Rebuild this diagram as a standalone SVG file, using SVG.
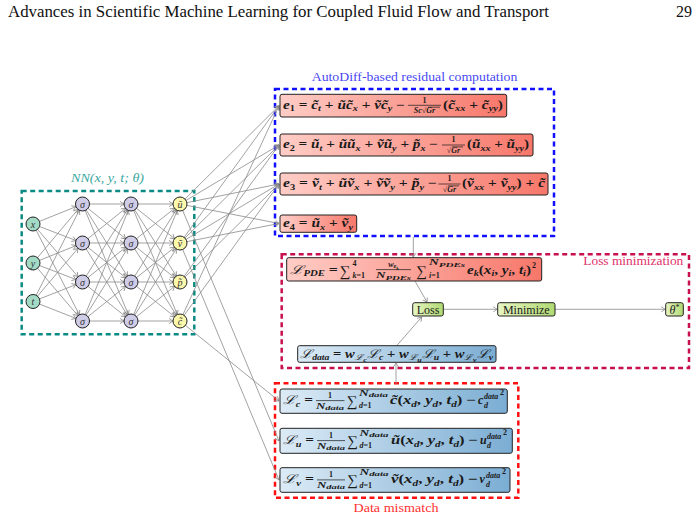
<svg xmlns="http://www.w3.org/2000/svg" width="700" height="519" viewBox="0 0 700 519">
<defs>
<style>
.edge{stroke:#8a8a8a;stroke-width:0.8;fill:none}
.nn{marker-end:url(#an)}
.cx{marker-end:url(#ab)}
.node{stroke:#222;stroke-width:1}
.in{fill:#a3dac6}.hid{fill:#cfcce8}.out{fill:#fbf8ac}
.serif{font-family:"Liberation Serif","Times New Roman",Times,"DejaVu Serif",serif}
.nl{font-family:"Liberation Serif","Times New Roman",Times,"DejaVu Serif",serif;font-style:italic;font-size:10px;text-anchor:middle;fill:#333}
.box{stroke:#222;stroke-width:1}
.m{font-family:"Liberation Serif","Times New Roman",Times,"DejaVu Serif",serif;font-size:12px;font-weight:bold;fill:#1a1a1a}
.i{font-style:italic}
.L{font-weight:normal}
.s{font-size:8px}
.t{font-size:6.5px}
.sig{font-size:15px;font-weight:normal}
.c{text-anchor:middle}
.bar{stroke:#1a1a1a;stroke-width:0.7}
.lbl{font-family:"Liberation Serif","Times New Roman",Times,"DejaVu Serif",serif;font-size:13px}
.plain{font-family:"Liberation Serif","Times New Roman",Times,"DejaVu Serif",serif;font-size:12px;fill:#1a1a1a;text-anchor:middle}
.dash{fill:none;stroke-width:2.5;stroke-dasharray:5 3.5}
</style>
<marker id="an" markerUnits="userSpaceOnUse" markerWidth="20" markerHeight="10" viewBox="-12 -5 20 10" refX="7" refY="0" orient="auto">
<path d="M-4,-2.6 L0,0 L-4,2.6" fill="none" stroke="#8a8a8a" stroke-width="0.8"/>
</marker>
<marker id="ab" markerUnits="userSpaceOnUse" markerWidth="10" markerHeight="10" viewBox="-6 -5 10 10" refX="0" refY="0" orient="auto">
<path d="M-4,-2.6 L0,0 L-4,2.6" fill="none" stroke="#8a8a8a" stroke-width="0.8"/>
</marker>
<linearGradient id="gr" x1="0" x2="1" y1="0" y2="0"><stop offset="0" stop-color="#ffcdc6"/><stop offset="1" stop-color="#f7776a"/></linearGradient>
<linearGradient id="gb" x1="0" x2="1" y1="0" y2="0"><stop offset="0" stop-color="#dcebf6"/><stop offset="1" stop-color="#7badd3"/></linearGradient>
<linearGradient id="gg" x1="0" x2="1" y1="0" y2="0"><stop offset="0" stop-color="#e8f5c4"/><stop offset="1" stop-color="#b0da72"/></linearGradient>
</defs>
<rect width="700" height="519" fill="#fff"/>

<text class="serif" x="8" y="17" font-size="16" textLength="541" lengthAdjust="spacingAndGlyphs" fill="#111">Advances in Scientific Machine Learning for Coupled Fluid Flow and Transport</text>
<text class="serif" x="692" y="17" font-size="16" text-anchor="end" fill="#111">29</text>

<g id="nn-frame">
<rect class="dash" x="21.7" y="191" width="172.6" height="143.3" stroke="#0a8a84"/>
<text class="serif" x="107.5" y="182.3" font-style="italic" font-size="12" fill="#3aa8a0" text-anchor="middle" textLength="73" lengthAdjust="spacingAndGlyphs">NN(x, y, t; θ)</text>
</g>
<g id="residual-frame">
<rect class="dash" x="275" y="89" width="279" height="147" stroke="#1010ff"/>
<text class="lbl" x="311.7" y="81" textLength="205.6" lengthAdjust="spacingAndGlyphs" fill="#4848f2">AutoDiff-based residual computation</text>
</g>
<g id="loss-frame">
<rect class="dash" x="281.7" y="254.3" width="407.3" height="113.7" stroke="#c8104c"/>
<text class="lbl" x="583.3" y="265" textLength="100" lengthAdjust="spacingAndGlyphs" fill="#e0306a">Loss minimization</text>
</g>
<g id="data-frame">
<rect class="dash" x="275" y="383.3" width="243.3" height="114.4" stroke="#ff1010"/>
<text class="lbl" x="396" y="511.5" textLength="85" lengthAdjust="spacingAndGlyphs" text-anchor="middle" fill="#ff3030">Data mismatch</text>
</g>

<g id="connectors">
<line class="edge nn" x1="33" y1="224" x2="82.5" y2="204"/>
<line class="edge nn" x1="33" y1="224" x2="82.5" y2="243"/>
<line class="edge nn" x1="33" y1="224" x2="82.5" y2="282"/>
<line class="edge nn" x1="33" y1="224" x2="82.5" y2="321"/>
<line class="edge nn" x1="33" y1="263" x2="82.5" y2="204"/>
<line class="edge nn" x1="33" y1="263" x2="82.5" y2="243"/>
<line class="edge nn" x1="33" y1="263" x2="82.5" y2="282"/>
<line class="edge nn" x1="33" y1="263" x2="82.5" y2="321"/>
<line class="edge nn" x1="33" y1="301.5" x2="82.5" y2="204"/>
<line class="edge nn" x1="33" y1="301.5" x2="82.5" y2="243"/>
<line class="edge nn" x1="33" y1="301.5" x2="82.5" y2="282"/>
<line class="edge nn" x1="33" y1="301.5" x2="82.5" y2="321"/>
<line class="edge nn" x1="82.5" y1="204" x2="131" y2="204"/>
<line class="edge nn" x1="82.5" y1="204" x2="131" y2="243"/>
<line class="edge nn" x1="82.5" y1="204" x2="131" y2="282"/>
<line class="edge nn" x1="82.5" y1="204" x2="131" y2="321"/>
<line class="edge nn" x1="82.5" y1="243" x2="131" y2="204"/>
<line class="edge nn" x1="82.5" y1="243" x2="131" y2="243"/>
<line class="edge nn" x1="82.5" y1="243" x2="131" y2="282"/>
<line class="edge nn" x1="82.5" y1="243" x2="131" y2="321"/>
<line class="edge nn" x1="82.5" y1="282" x2="131" y2="204"/>
<line class="edge nn" x1="82.5" y1="282" x2="131" y2="243"/>
<line class="edge nn" x1="82.5" y1="282" x2="131" y2="282"/>
<line class="edge nn" x1="82.5" y1="282" x2="131" y2="321"/>
<line class="edge nn" x1="82.5" y1="321" x2="131" y2="204"/>
<line class="edge nn" x1="82.5" y1="321" x2="131" y2="243"/>
<line class="edge nn" x1="82.5" y1="321" x2="131" y2="282"/>
<line class="edge nn" x1="82.5" y1="321" x2="131" y2="321"/>
<line class="edge nn" x1="131" y1="204" x2="180" y2="204"/>
<line class="edge nn" x1="131" y1="204" x2="180" y2="243"/>
<line class="edge nn" x1="131" y1="204" x2="180" y2="282"/>
<line class="edge nn" x1="131" y1="204" x2="180" y2="321"/>
<line class="edge nn" x1="131" y1="243" x2="180" y2="204"/>
<line class="edge nn" x1="131" y1="243" x2="180" y2="243"/>
<line class="edge nn" x1="131" y1="243" x2="180" y2="282"/>
<line class="edge nn" x1="131" y1="243" x2="180" y2="321"/>
<line class="edge nn" x1="131" y1="282" x2="180" y2="204"/>
<line class="edge nn" x1="131" y1="282" x2="180" y2="243"/>
<line class="edge nn" x1="131" y1="282" x2="180" y2="282"/>
<line class="edge nn" x1="131" y1="282" x2="180" y2="321"/>
<line class="edge nn" x1="131" y1="321" x2="180" y2="204"/>
<line class="edge nn" x1="131" y1="321" x2="180" y2="243"/>
<line class="edge nn" x1="131" y1="321" x2="180" y2="282"/>
<line class="edge nn" x1="131" y1="321" x2="180" y2="321"/>
<line class="edge cx" x1="180" y1="204" x2="279" y2="105.7"/>
<line class="edge cx" x1="180" y1="243" x2="279" y2="105.7"/>
<line class="edge cx" x1="180" y1="321" x2="279" y2="105.7"/>
<line class="edge cx" x1="180" y1="204" x2="279" y2="145"/>
<line class="edge cx" x1="180" y1="243" x2="279" y2="145"/>
<line class="edge cx" x1="180" y1="282" x2="279" y2="145"/>
<line class="edge cx" x1="180" y1="204" x2="279" y2="184"/>
<line class="edge cx" x1="180" y1="243" x2="279" y2="184"/>
<line class="edge cx" x1="180" y1="282" x2="279" y2="184"/>
<line class="edge cx" x1="180" y1="321" x2="279" y2="184"/>
<line class="edge cx" x1="180" y1="204" x2="279" y2="223.5"/>
<line class="edge cx" x1="180" y1="243" x2="279" y2="223.5"/>
<line class="edge cx" x1="180" y1="321" x2="279" y2="401"/>
<line class="edge cx" x1="180" y1="204" x2="279" y2="441"/>
<line class="edge cx" x1="180" y1="243" x2="279" y2="480"/>
<line class="edge cx" x1="413.3" y1="237" x2="413.3" y2="257.2"/>
<line class="edge cx" x1="396" y1="384" x2="396" y2="363"/>
<line class="edge cx" x1="415" y1="281" x2="427" y2="302.2"/>
<line class="edge cx" x1="396.7" y1="345.7" x2="421.7" y2="317"/>
<line class="edge cx" x1="443.3" y1="309.3" x2="497.2" y2="309.3"/>
<line class="edge cx" x1="555" y1="309.3" x2="665.2" y2="309.3"/>
</g>

<g id="in-x"><circle class="node in" cx="33" cy="224" r="7"/><text class="nl" x="33" y="227.5">x</text></g>
<g id="in-y"><circle class="node in" cx="33" cy="263" r="7"/><text class="nl" x="33" y="266.5">y</text></g>
<g id="in-t"><circle class="node in" cx="33" cy="301.5" r="7"/><text class="nl" x="33" y="305">t</text></g>
<g id="h1-1"><circle class="node hid" cx="82.5" cy="204" r="7"/><text class="nl" x="82.5" y="207.5">σ</text></g>
<g id="h1-2"><circle class="node hid" cx="82.5" cy="243" r="7"/><text class="nl" x="82.5" y="246.5">σ</text></g>
<g id="h1-3"><circle class="node hid" cx="82.5" cy="282" r="7"/><text class="nl" x="82.5" y="285.5">σ</text></g>
<g id="h1-4"><circle class="node hid" cx="82.5" cy="321" r="7"/><text class="nl" x="82.5" y="324.5">σ</text></g>
<g id="h2-1"><circle class="node hid" cx="131" cy="204" r="7"/><text class="nl" x="131" y="207.5">σ</text></g>
<g id="h2-2"><circle class="node hid" cx="131" cy="243" r="7"/><text class="nl" x="131" y="246.5">σ</text></g>
<g id="h2-3"><circle class="node hid" cx="131" cy="282" r="7"/><text class="nl" x="131" y="285.5">σ</text></g>
<g id="h2-4"><circle class="node hid" cx="131" cy="321" r="7"/><text class="nl" x="131" y="324.5">σ</text></g>
<g id="out-u"><circle class="node out" cx="180" cy="204" r="7"/><text class="nl" x="180" y="207.5">u&#x303;</text></g>
<g id="out-v"><circle class="node out" cx="180" cy="243" r="7"/><text class="nl" x="180" y="246.5">v&#x303;</text></g>
<g id="out-p"><circle class="node out" cx="180" cy="282" r="7"/><text class="nl" x="180" y="285.5">p&#x303;</text></g>
<g id="out-c"><circle class="node out" cx="180" cy="321" r="7"/><text class="nl" x="180" y="324.5">c&#x303;</text></g>

<g id="e1">
<rect class="box" x="280" y="94.3" width="226.7" height="22.7" rx="2" fill="url(#gr)"/>
<text class="m" x="283" y="108.5" textLength="122" lengthAdjust="spacingAndGlyphs"><tspan class="i">e</tspan><tspan class="s" dy="2.5">1</tspan><tspan dy="-2.5"> = </tspan><tspan class="i">c&#x303;</tspan><tspan class="s i" dy="2.5">t</tspan><tspan dy="-2.5"> + </tspan><tspan class="i">u&#x303;c&#x303;</tspan><tspan class="s i" dy="2.5">x</tspan><tspan dy="-2.5"> + </tspan><tspan class="i">v&#x303;c&#x303;</tspan><tspan class="s i" dy="2.5">y</tspan><tspan dy="-2.5"> −</tspan></text>
<text class="m s c" x="424.5" y="102.5">1</text>
<line class="bar" x1="408" y1="105.3" x2="441" y2="105.3"/>
<text class="m s c" x="424.5" y="113"><tspan class="i">Sc</tspan>√<tspan class="i">Gr</tspan></text>
<line class="bar" x1="428" y1="107.2" x2="440" y2="107.2"/>
<text class="m" x="443" y="108.5" textLength="60" lengthAdjust="spacingAndGlyphs">(<tspan class="i">c&#x303;</tspan><tspan class="s i" dy="2.5">xx</tspan><tspan dy="-2.5"> + </tspan><tspan class="i">c&#x303;</tspan><tspan class="s i" dy="2.5">yy</tspan><tspan dy="-2.5">)</tspan></text>
</g>
<g id="e2">
<rect class="box" x="280" y="134" width="253" height="22" rx="2" fill="url(#gr)"/>
<text class="m" x="283" y="148.3" textLength="155" lengthAdjust="spacingAndGlyphs"><tspan class="i">e</tspan><tspan class="s" dy="2.5">2</tspan><tspan dy="-2.5"> = </tspan><tspan class="i">u&#x303;</tspan><tspan class="s i" dy="2.5">t</tspan><tspan dy="-2.5"> + </tspan><tspan class="i">u&#x303;u&#x303;</tspan><tspan class="s i" dy="2.5">x</tspan><tspan dy="-2.5"> + </tspan><tspan class="i">v&#x303;u&#x303;</tspan><tspan class="s i" dy="2.5">y</tspan><tspan dy="-2.5"> + </tspan><tspan class="i">p&#x303;</tspan><tspan class="s i" dy="2.5">x</tspan><tspan dy="-2.5"> −</tspan></text>
<text class="m s c" x="453.5" y="142.2">1</text>
<line class="bar" x1="442" y1="145" x2="465" y2="145"/>
<text class="m s c" x="453.5" y="152.7">√<tspan class="i">Gr</tspan></text>
<line class="bar" x1="452" y1="146.9" x2="463" y2="146.9"/>
<text class="m" x="467" y="148.3" textLength="62" lengthAdjust="spacingAndGlyphs">(<tspan class="i">u&#x303;</tspan><tspan class="s i" dy="2.5">xx</tspan><tspan dy="-2.5"> + </tspan><tspan class="i">u&#x303;</tspan><tspan class="s i" dy="2.5">yy</tspan><tspan dy="-2.5">)</tspan></text>
</g>
<g id="e3">
<rect class="box" x="280" y="173" width="268" height="22" rx="2" fill="url(#gr)"/>
<text class="m" x="283" y="187.3" textLength="154" lengthAdjust="spacingAndGlyphs"><tspan class="i">e</tspan><tspan class="s" dy="2.5">3</tspan><tspan dy="-2.5"> = </tspan><tspan class="i">v&#x303;</tspan><tspan class="s i" dy="2.5">t</tspan><tspan dy="-2.5"> + </tspan><tspan class="i">u&#x303;v&#x303;</tspan><tspan class="s i" dy="2.5">x</tspan><tspan dy="-2.5"> + </tspan><tspan class="i">v&#x303;v&#x303;</tspan><tspan class="s i" dy="2.5">y</tspan><tspan dy="-2.5"> + </tspan><tspan class="i">p&#x303;</tspan><tspan class="s i" dy="2.5">y</tspan><tspan dy="-2.5"> −</tspan></text>
<text class="m s c" x="449.5" y="181.2">1</text>
<line class="bar" x1="438.5" y1="184" x2="460.5" y2="184"/>
<text class="m s c" x="449.5" y="191.7">√<tspan class="i">Gr</tspan></text>
<line class="bar" x1="448" y1="185.9" x2="459" y2="185.9"/>
<text class="m" x="462" y="187.3" textLength="83" lengthAdjust="spacingAndGlyphs">(<tspan class="i">v&#x303;</tspan><tspan class="s i" dy="2.5">xx</tspan><tspan dy="-2.5"> + </tspan><tspan class="i">v&#x303;</tspan><tspan class="s i" dy="2.5">yy</tspan><tspan dy="-2.5">) + </tspan><tspan class="i">c&#x303;</tspan></text>
</g>
<g id="e4">
<rect class="box" x="280" y="215" width="76.7" height="17.3" rx="2" fill="url(#gr)"/>
<text class="m" x="283" y="227" textLength="70" lengthAdjust="spacingAndGlyphs"><tspan class="i">e</tspan><tspan class="s" dy="2.5">4</tspan><tspan dy="-2.5"> = </tspan><tspan class="i">u&#x303;</tspan><tspan class="s i" dy="2.5">x</tspan><tspan dy="-2.5"> + </tspan><tspan class="i">v&#x303;</tspan><tspan class="s i" dy="2.5">y</tspan></text>
</g>

<g id="lpde">
<rect class="box" x="286.7" y="257.7" width="255" height="23.3" rx="2" fill="url(#gr)"/>
<text class="m" x="290" y="273.5" textLength="48" lengthAdjust="spacingAndGlyphs"><tspan class="i L">ℒ</tspan><tspan class="s i" dy="2.5">PDE</tspan><tspan dy="-2.5"> =</tspan></text>
<text class="m sig" x="339.5" y="276">∑</text>
<text class="m s" x="352.5" y="265.5">4</text>
<text class="m s" x="352.5" y="278.3"><tspan class="i">k</tspan>=1</text>
<text class="m s c i" x="393.5" y="266.8">w<tspan class="t" dy="1.5">e</tspan><tspan font-size="5" dy="1.3">k</tspan></text>
<line class="bar" x1="376" y1="269.6" x2="411" y2="269.6"/>
<text class="m s c i" x="393.5" y="278" textLength="35" lengthAdjust="spacingAndGlyphs">N<tspan class="t" dy="1.5">PDEs</tspan></text>
<text class="m sig" x="416" y="276">∑</text>
<text class="m s i" x="429" y="265.3" textLength="36" lengthAdjust="spacingAndGlyphs">N<tspan class="t" dy="1.5">PDEs</tspan></text>
<text class="m s" x="429" y="278.3"><tspan class="i">i</tspan>=1</text>
<text class="m" x="467" y="273.5" textLength="64" lengthAdjust="spacingAndGlyphs"><tspan class="i">e</tspan><tspan class="s i" dy="2.5">k</tspan><tspan dy="-2.5">(</tspan><tspan class="i">x</tspan><tspan class="s i" dy="2.5">i</tspan><tspan dy="-2.5">, </tspan><tspan class="i">y</tspan><tspan class="s i" dy="2.5">i</tspan><tspan dy="-2.5">, </tspan><tspan class="i">t</tspan><tspan class="s i" dy="2.5">i</tspan><tspan dy="-2.5">)</tspan></text>
<text class="m s" x="532" y="267.5">2</text>
</g>
<g id="loss">
<rect class="box" x="412.7" y="302.7" width="30.6" height="13.3" rx="2" fill="url(#gg)"/>
<text class="plain" x="428" y="313.5">Loss</text>
</g>
<g id="minimize">
<rect class="box" x="497.7" y="302.7" width="57.3" height="13.3" rx="2" fill="url(#gg)"/>
<text class="plain" x="526.3" y="313.5">Minimize</text>
</g>
<g id="theta">
<rect class="box" x="665.7" y="302.7" width="17.6" height="13.3" rx="2" fill="url(#gg)"/>
<text class="plain" x="674.5" y="313.5"><tspan font-style="italic">θ</tspan><tspan font-size="8" dy="-4">*</tspan></text>
</g>
<g id="ldata">
<rect class="box" x="297.7" y="345.7" width="198.3" height="16.6" rx="2" fill="url(#gb)"/>
<text class="m" x="300" y="357.5" textLength="193" lengthAdjust="spacingAndGlyphs"><tspan class="i L">ℒ</tspan><tspan class="s i" dy="2.5">data</tspan><tspan dy="-2.5"> = </tspan><tspan class="i">w</tspan><tspan class="s i L" dy="2.5">ℒ</tspan><tspan class="t i" dy="1.5">c</tspan><tspan class="i L" dy="-4">ℒ</tspan><tspan class="s i" dy="2.5">c</tspan><tspan dy="-2.5"> + </tspan><tspan class="i">w</tspan><tspan class="s i L" dy="2.5">ℒ</tspan><tspan class="t i" dy="1.5">u</tspan><tspan class="i L" dy="-4">ℒ</tspan><tspan class="s i" dy="2.5">u</tspan><tspan dy="-2.5"> + </tspan><tspan class="i">w</tspan><tspan class="s i L" dy="2.5">ℒ</tspan><tspan class="t i" dy="1.5">v</tspan><tspan class="i L" dy="-4">ℒ</tspan><tspan class="s i" dy="2.5">v</tspan></text>
</g>

<g id="lc">
<rect class="box" x="280" y="389" width="227.3" height="24.3" rx="2" fill="url(#gb)"/>
<text class="m" x="283" y="404" textLength="30" lengthAdjust="spacingAndGlyphs"><tspan class="i L">ℒ</tspan><tspan class="s i" dy="2.5">c</tspan><tspan dy="-2.5"> =</tspan></text>
<text class="m s c" x="330" y="398">1</text>
<line class="bar" x1="316" y1="400.6" x2="344.5" y2="400.6"/>
<text class="m s c i" x="330" y="408.5" textLength="28" lengthAdjust="spacingAndGlyphs">N<tspan class="t" dy="1.5">data</tspan></text>
<text class="m sig" x="346.5" y="406">∑</text>
<text class="m s i" x="359" y="395.5" textLength="29" lengthAdjust="spacingAndGlyphs">N<tspan class="t" dy="1.5">data</tspan></text>
<text class="m s" x="359" y="408.3"><tspan class="i">d</tspan>=1</text>
<text class="m" x="390" y="404" textLength="86" lengthAdjust="spacingAndGlyphs"><tspan class="i">c&#x303;</tspan>(<tspan class="i">x</tspan><tspan class="s i" dy="2.5">d</tspan><tspan dy="-2.5">, </tspan><tspan class="i">y</tspan><tspan class="s i" dy="2.5">d</tspan><tspan dy="-2.5">, </tspan><tspan class="i">t</tspan><tspan class="s i" dy="2.5">d</tspan><tspan dy="-2.5">) −</tspan></text>
<text class="m i" x="478" y="404">c</text>
<text class="m s i" x="484" y="398.8">data</text>
<text class="m s i" x="484" y="407.5">d</text>
<text class="m s" x="500" y="395">2</text>
</g>
<g id="lu">
<rect class="box" x="280" y="428.3" width="232.3" height="25" rx="2" fill="url(#gb)"/>
<text class="m" x="283" y="444" textLength="31" lengthAdjust="spacingAndGlyphs"><tspan class="i L">ℒ</tspan><tspan class="s i" dy="2.5">u</tspan><tspan dy="-2.5"> =</tspan></text>
<text class="m s c" x="331" y="438">1</text>
<line class="bar" x1="317" y1="440.6" x2="345" y2="440.6"/>
<text class="m s c i" x="331" y="448.5" textLength="28" lengthAdjust="spacingAndGlyphs">N<tspan class="t" dy="1.5">data</tspan></text>
<text class="m sig" x="347" y="446">∑</text>
<text class="m s i" x="359.5" y="435.5" textLength="29" lengthAdjust="spacingAndGlyphs">N<tspan class="t" dy="1.5">data</tspan></text>
<text class="m s" x="359.5" y="448.3"><tspan class="i">d</tspan>=1</text>
<text class="m" x="391" y="444" textLength="87" lengthAdjust="spacingAndGlyphs"><tspan class="i">u&#x303;</tspan>(<tspan class="i">x</tspan><tspan class="s i" dy="2.5">d</tspan><tspan dy="-2.5">, </tspan><tspan class="i">y</tspan><tspan class="s i" dy="2.5">d</tspan><tspan dy="-2.5">, </tspan><tspan class="i">t</tspan><tspan class="s i" dy="2.5">d</tspan><tspan dy="-2.5">) −</tspan></text>
<text class="m i" x="480" y="444">u</text>
<text class="m s i" x="487" y="438.8">data</text>
<text class="m s i" x="487" y="447.5">d</text>
<text class="m s" x="503" y="435">2</text>
</g>
<g id="lv">
<rect class="box" x="280" y="467.7" width="230" height="24.6" rx="2" fill="url(#gb)"/>
<text class="m" x="283" y="483.3" textLength="31" lengthAdjust="spacingAndGlyphs"><tspan class="i L">ℒ</tspan><tspan class="s i" dy="2.5">v</tspan><tspan dy="-2.5"> =</tspan></text>
<text class="m s c" x="331" y="477.3">1</text>
<line class="bar" x1="317" y1="479.9" x2="345" y2="479.9"/>
<text class="m s c i" x="331" y="487.8" textLength="28" lengthAdjust="spacingAndGlyphs">N<tspan class="t" dy="1.5">data</tspan></text>
<text class="m sig" x="347" y="485.3">∑</text>
<text class="m s i" x="359.5" y="474.8" textLength="29" lengthAdjust="spacingAndGlyphs">N<tspan class="t" dy="1.5">data</tspan></text>
<text class="m s" x="359.5" y="487.6"><tspan class="i">d</tspan>=1</text>
<text class="m" x="391" y="483.3" textLength="87" lengthAdjust="spacingAndGlyphs"><tspan class="i">v&#x303;</tspan>(<tspan class="i">x</tspan><tspan class="s i" dy="2.5">d</tspan><tspan dy="-2.5">, </tspan><tspan class="i">y</tspan><tspan class="s i" dy="2.5">d</tspan><tspan dy="-2.5">, </tspan><tspan class="i">t</tspan><tspan class="s i" dy="2.5">d</tspan><tspan dy="-2.5">) −</tspan></text>
<text class="m i" x="479.5" y="483.3">v</text>
<text class="m s i" x="486" y="478.1">data</text>
<text class="m s i" x="486" y="486.8">d</text>
<text class="m s" x="502" y="474.3">2</text>
</g>
</svg>
